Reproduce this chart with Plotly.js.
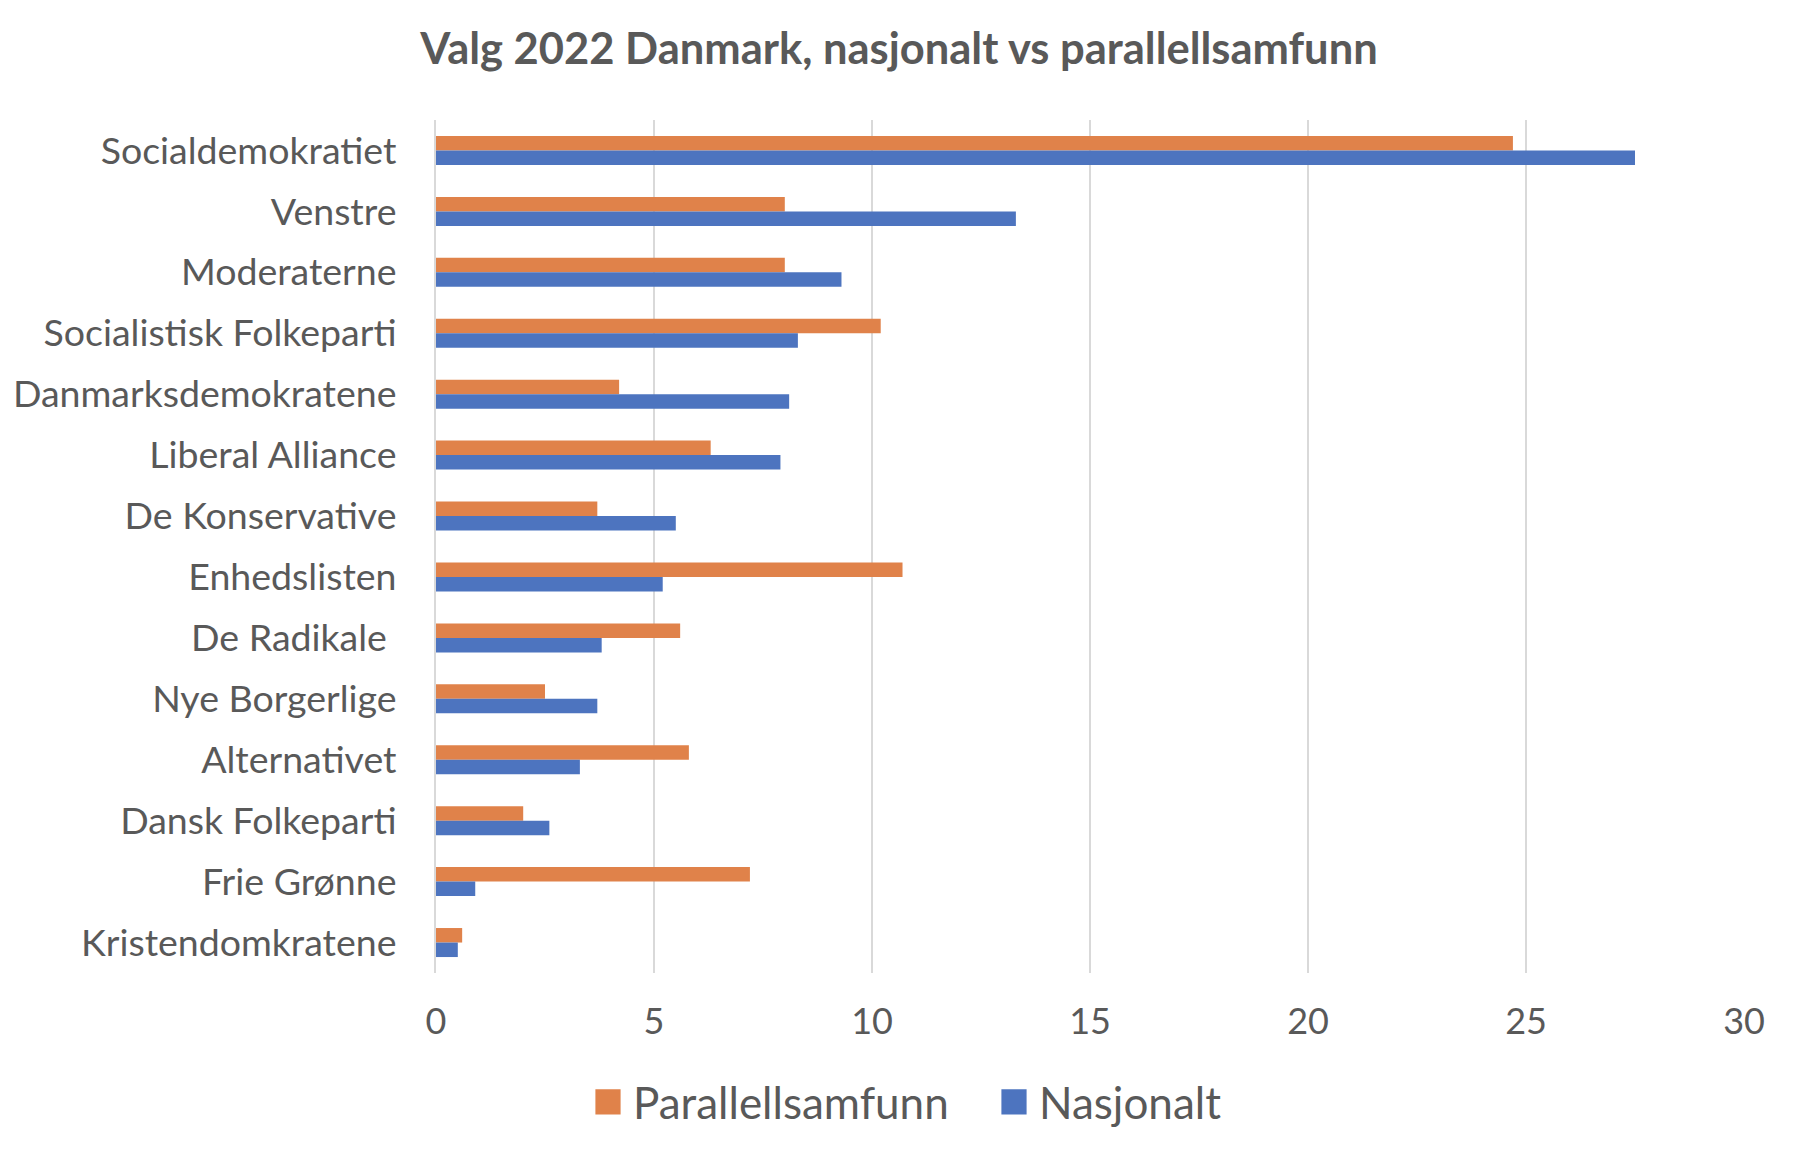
<!DOCTYPE html>
<html>
<head>
<meta charset="utf-8">
<script src="https://cdn.plot.ly/plotly-3.0.1.min.js"></script>
<style>html,body{margin:0;padding:0;background:#fff;}</style>
</head>
<body>
<div id="chart" style="width:1798px;height:1152px;"></div>
<script>
const parties = ["Socialdemokratiet","Venstre","Moderaterne","Socialistisk Folkeparti","Danmarksdemokratene","Liberal Alliance","De Konservative","Enhedslisten","De Radikale ","Nye Borgerlige","Alternativet","Dansk Folkeparti","Frie Grønne","Kristendomkratene"];
const parallellsamfunn = [24.7,8.0,8.0,10.2,4.2,6.3,3.7,10.7,5.6,2.5,5.8,2.0,7.2,0.6];
const nasjonalt = [27.5,13.3,9.3,8.3,8.1,7.9,5.5,5.2,3.8,3.7,3.3,2.6,0.9,0.5];
const xTicks = [0,5,10,15,20,25,30];
const seriesNames = ["Parallellsamfunn","Nasjonalt"];
const colors = ["#E0824A","#4D74BF"];
const textColor = "#595959";
const fontFamily = "Lato, 'Open Sans', sans-serif";

const traces = [
  {type:'bar', orientation:'h', name:seriesNames[0], y:parties, x:parallellsamfunn,
   marker:{color:colors[0]}, hoverinfo:'x+y'},
  {type:'bar', orientation:'h', name:seriesNames[1], y:parties, x:nasjonalt,
   marker:{color:colors[1]}, hoverinfo:'x+y'}
];

const layout = {
  width:1798, height:1152,
  paper_bgcolor:'#fff', plot_bgcolor:'#fff',
  margin:{l:436, r:54, t:120, b:179, pad:0},
  barmode:'group', bargap:0.524, bargroupgap:0,
  font:{family:fontFamily, color:textColor, size:37},
  title:{text:'<b>Valg 2022 Danmark, nasjonalt vs parallellsamfunn</b>',
    font:{family:fontFamily, size:43.5, color:textColor},
    x:0.5, xref:'container', xanchor:'center', y:1-49/1152, yref:'container', yanchor:'middle'},
  xaxis:{range:[0,30], tickvals:xTicks, ticktext:xTicks.map(String),
    showgrid:true, gridcolor:'#D9D9D9', gridwidth:2, zeroline:false,
    showline:false, ticks:'', ticklabelstandoff:24,
    tickfont:{family:fontFamily, size:36, color:textColor}, fixedrange:true},
  yaxis:{autorange:'reversed', type:'category', showgrid:false, zeroline:false,
    showline:true, linecolor:'#D9D9D9', linewidth:2, ticks:'', ticklabelstandoff:30,
    tickfont:{family:fontFamily, size:37.5, color:textColor}, fixedrange:true},
  showlegend:true,
  legend:{orientation:'h', x:(593-436)/1308, xanchor:'left', y:-0.11, yanchor:'top',
    font:{family:fontFamily, size:44, color:textColor}, itemclick:false, itemdoubleclick:false,
    traceorder:'normal', itemwidth:30, entrywidth:361},
  hovermode:false
};

Plotly.newPlot('chart', traces, layout, {displayModeBar:false, staticPlot:true}).then(function(gd){
  document.querySelectorAll('.legendpoints path').forEach(function(p){
    const t = p.getAttribute('transform') || '';
    p.setAttribute('transform', t + ' translate(-5,0) scale(2.1)');
  });
});
</script>
</body>
</html>
